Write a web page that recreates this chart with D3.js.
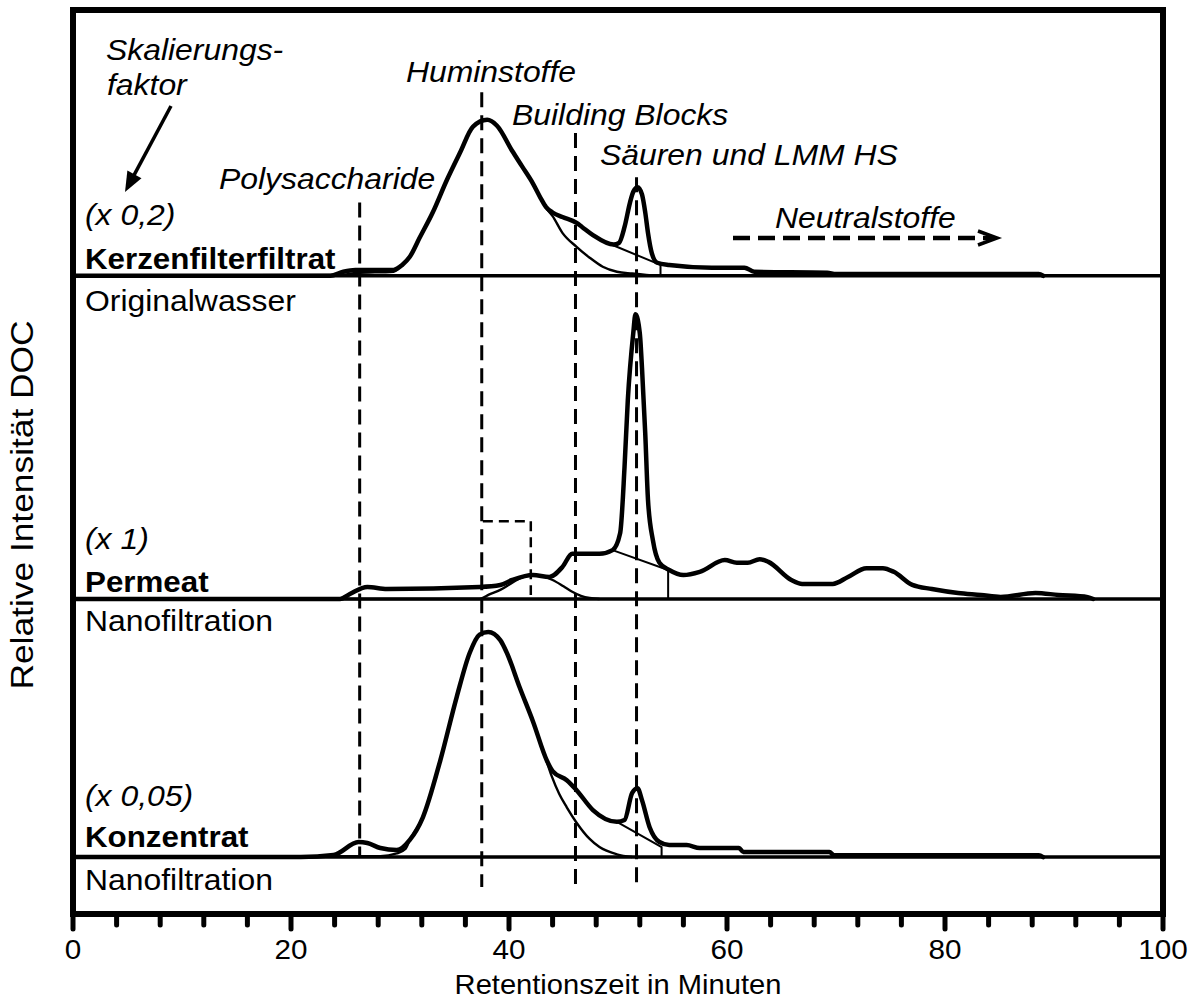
<!DOCTYPE html>
<html>
<head>
<meta charset="utf-8">
<script src="https://cdn.jsdelivr.net/npm/d3@7"></script>
<style>
  body { margin: 0; background: #fff; }
  svg { display: block; }
  text { font-family: "Liberation Sans", Arial, Helvetica, sans-serif; fill: #000; }
</style>
</head>
<body>
<svg id="chart" width="1199" height="999"></svg>
<script>
// ---- LC-OCD chromatograms (retention time in minutes, relative DOC intensity) ----

// Axis ticks
const majorTicks = [0, 20, 40, 60, 80, 100];
const minorTicks = d3.range(0, 101, 4);

// Samples, stacked from top to bottom
const sampleNames   = ["Kerzenfilterfiltrat", "Permeat", "Konzentrat"];
const sampleSources = ["Originalwasser", "Nanofiltration", "Nanofiltration"];
const scaleFactors  = ["(x 0,2)", "(x 1)", "(x 0,05)"];
const stackOffsets  = [70.6, 34.85, 6.3];

// Fraction markers (retention time of each fraction)
const fractionNames = ["Polysaccharide", "Huminstoffe", "Building Blocks", "Säuren und LMM HS"];
const fractionTimes = [26.3, 37.5, 46.1, 51.7];

// Kerzenfilterfiltrat (x 0,2)
const kerzenTrace = [[0,0],[23.6,0],[24.8,0.45],[25.9,0.65],[29.4,0.65],[30.2,1.2],[30.9,2.1],[31.8,4.2],[33.0,7.0],[34.3,10.6],[35.5,13.6],[36.7,16.5],[38.0,17.25],[38.9,16.6],[40.3,13.8],[41.2,12.1],[42.2,10.2],[42.9,8.6],[43.4,7.6],[44.0,7.0],[44.9,6.5],[46.2,5.85],[46.7,5.4],[47.7,4.5],[49.6,3.45],[50.1,3.65],[50.6,5.4],[51.1,8.1],[51.4,9.3],[51.8,9.8],[52.2,9.0],[52.5,7.0],[52.75,4.75],[53.1,2.5],[53.6,1.44],[54.7,1.2],[58.6,0.9],[61.6,0.9],[62.5,0.44],[69.2,0.33],[70.0,0.2],[88.6,0.2],[89.0,0]];
const kerzenFit   = [[0,0],[24.5,0.1],[26.0,0.3],[29.4,0.45],[30.2,1.2],[30.9,2.1],[31.8,4.2],[33.0,7.0],[34.3,10.6],[35.5,13.6],[36.7,16.5],[38.0,17.25],[38.9,16.6],[40.3,13.8],[41.2,12.1],[42.2,10.2],[42.9,8.6],[43.4,7.5],[44.0,6.6],[44.9,4.75],[46.2,3.2],[47.4,2.0],[48.6,1.0],[49.9,0.45],[51.3,0.25],[52.6,0.1],[54.0,0]];
const kerzenAcidBase = [[49.5,3.4],[53.9,1.2],[53.9,0]];

// Permeat (x 1)
const permeatTrace = [[0,0],[24.5,0],[25.4,0.55],[27.0,1.33],[28.8,1.1],[37.3,1.33],[39.2,1.55],[40.3,2.1],[42.2,2.65],[43.7,2.43],[44.9,3.54],[45.8,5.0],[48.3,5.0],[49.5,5.4],[50.2,7.3],[50.6,14.6],[50.9,22.0],[51.4,29.4],[51.6,31.5],[52.0,29.4],[52.2,25.6],[52.5,18.3],[52.75,11.0],[53.2,6.5],[53.8,4.0],[54.7,3.2],[56.0,2.65],[57.5,3.0],[59.8,4.3],[60.9,4.0],[61.9,4.0],[63.0,4.4],[63.8,4.1],[65.9,2.1],[66.9,1.66],[69.7,1.66],[71.1,2.43],[72.8,3.4],[74.3,3.4],[75.3,3.0],[77.0,1.55],[78.8,1.1],[81.2,0.66],[83.3,0.44],[85.1,0.22],[88.3,0.66],[90.4,0.44],[93.1,0.2],[93.6,0]];
const permeatFit   = [[0,0],[37.3,0],[38.2,0.5],[39.2,1.0],[40.3,1.8],[41.2,2.4],[42.2,2.65],[43.0,2.55],[44.0,2.1],[45.0,1.4],[45.8,0.8],[46.6,0.35],[47.4,0.1],[48.3,0]];
const permeatAcidBase = [[49.5,5.4],[54.6,3.2],[54.6,0]];
const permeatBracket  = [[37.6,8.6],[42.0,8.6],[42.0,0.44]];

// Konzentrat (x 0,05)
const konzTrace = [[0,0],[20.9,0],[23.9,0.22],[26.2,1.66],[27.0,1.55],[28.2,1.0],[29.7,0.77],[30.9,1.9],[32.1,4.4],[33.7,10.7],[35.2,17.7],[36.4,22.6],[37.3,24.6],[38.1,24.9],[39.2,24.0],[39.8,22.6],[41.0,18.7],[42.2,15.0],[43.5,10.6],[44.0,9.5],[45.3,8.5],[46.2,7.4],[47.7,5.2],[49.9,3.9],[50.6,4.1],[51.3,7.1],[51.8,7.6],[52.2,6.3],[52.9,3.3],[53.8,1.66],[54.7,1.33],[56.3,1.33],[57.5,1.0],[61.1,1.0],[61.5,0.55],[69.4,0.55],[69.8,0.22],[88.6,0.2],[89.0,0]];
const konzFit   = [[0,0],[28.2,0.1],[29.7,0.4],[30.5,0.9],[30.9,1.9],[32.1,4.4],[33.7,10.7],[35.2,17.7],[36.4,22.6],[37.3,24.6],[38.1,24.9],[39.2,24.0],[39.8,22.6],[41.0,18.7],[42.2,15.0],[43.1,11.9],[43.9,9.0],[44.6,7.0],[45.3,5.5],[46.2,3.8],[47.4,2.0],[48.3,1.1],[49.9,0.3],[51.3,0]];
const konzAcidBase = [[49.9,3.9],[54.0,1.1],[54.0,0]];

const traces   = [kerzenTrace, permeatTrace, konzTrace];
const fits     = [kerzenFit, permeatFit, konzFit];
const acidBase = [kerzenAcidBase, permeatAcidBase, konzAcidBase];

// ---- layout ----
const svg = d3.select("#chart");
const plot = { left: 73, right: 1163, top: 10, bottom: 914 };
const x = d3.scaleLinear().domain([0, 100]).range([plot.left, plot.right]);
const y = d3.scaleLinear().domain([0, 100]).range([plot.bottom, plot.top]);

function label(px, py, str, opts = {}) {
  const sx = opts.stretch || 1.1; // horizontal stretch of lettering
  const t = svg.append("text")
    .attr("transform", `translate(${px},${py}) ${opts.rotate ? "rotate(" + opts.rotate + ")" : ""} scale(${sx},1)`)
    .attr("font-size", opts.size || 29)
    .attr("text-anchor", opts.anchor || "start")
    .text(str);
  if (opts.italic) t.attr("font-style", "italic");
  if (opts.bold) t.attr("font-weight", "bold");
  return t;
}

const line = (off) => d3.line()
  .x(d => x(d[0]))
  .y(d => y(d[1] + off))
  .curve(d3.curveMonotoneX);
const straight = (off) => d3.line().x(d => x(d[0])).y(d => y(d[1] + off));

// fraction markers (dashed verticals)
const markerTop = [78.7, 90.9, 86.4, 81.5];
const markerBottom = [6.2, 3.0, 3.1, 2.9];
svg.append("g").selectAll("line").data(fractionTimes).join("line")
  .attr("x1", d => x(d)).attr("x2", d => x(d))
  .attr("y1", (d, i) => y(markerTop[i])).attr("y2", (d, i) => y(markerBottom[i]))
  .attr("stroke", "#000").attr("stroke-width", 3).attr("stroke-dasharray", "15,8");

// stacked chromatograms
stackOffsets.forEach((off, i) => {
  const g = svg.append("g");
  // zero line of the sample
  g.append("line")
    .attr("x1", x(0)).attr("x2", x(100)).attr("y1", y(off)).attr("y2", y(off))
    .attr("stroke", "#000").attr("stroke-width", 3.5);
  // fitted humic fraction
  g.append("path").attr("d", line(off)(fits[i]))
    .attr("fill", "none").attr("stroke", "#000").attr("stroke-width", 2.4)
    .attr("stroke-linejoin", "round");
  // integration boundary of the acid peak
  g.append("path").attr("d", straight(off)(acidBase[i]))
    .attr("fill", "none").attr("stroke", "#000").attr("stroke-width", 2);
  // measured DOC signal
  g.append("path").attr("d", line(off)(traces[i]))
    .attr("fill", "none").attr("stroke", "#000").attr("stroke-width", 4.5)
    .attr("stroke-linejoin", "round").attr("stroke-linecap", "round");
});

// dashed bracket on the permeat humic fraction
svg.append("path").attr("d", straight(stackOffsets[1])(permeatBracket))
  .attr("fill", "none").attr("stroke", "#000").attr("stroke-width", 2.5)
  .attr("stroke-dasharray", "10,6");

// sample labels
const nameY = [269, 592, 847];
const srcY  = [311, 631, 890];
const facY  = [225, 549, 806];
sampleNames.forEach((n, i) => {
  label(85, facY[i], scaleFactors[i], { italic: true });
  label(85, nameY[i], n, { bold: true, stretch: 1.08 });
  label(85, srcY[i], sampleSources[i]);
});

// fraction labels
const fracLabelPos = [[219, 189, "start"], [491, 82, "middle"], [512, 125, "start"], [600, 165, "start"]];
fractionNames.forEach((n, i) => {
  label(fracLabelPos[i][0], fracLabelPos[i][1], n, { italic: true, anchor: fracLabelPos[i][2] });
});

// neutral substances arrow
label(775, 228, "Neutralstoffe", { italic: true });
svg.append("line").attr("x1", 733).attr("x2", 992).attr("y1", 238).attr("y2", 238)
  .attr("stroke", "#000").attr("stroke-width", 4.5).attr("stroke-dasharray", "17,8");
svg.append("path").attr("d", "M978,231 L997,238 L978,245")
  .attr("fill", "none").attr("stroke", "#000").attr("stroke-width", 3.5)
  .attr("stroke-linejoin", "miter");

// scaling-factor annotation
label(106, 60, "Skalierungs-", { italic: true });
label(107, 95, "faktor", { italic: true });
(function () {
  const x0 = 171, y0 = 106, x1 = 125, y1 = 192;
  const dx = x1 - x0, dy = y1 - y0, L = Math.hypot(dx, dy);
  const ux = dx / L, uy = dy / L, head = 20, half = 8;
  const bx = x1 - ux * head, by = y1 - uy * head;
  svg.append("line").attr("x1", x0).attr("y1", y0).attr("x2", bx + ux * 2).attr("y2", by + uy * 2)
    .attr("stroke", "#000").attr("stroke-width", 3.5);
  svg.append("path")
    .attr("d", `M${x1},${y1} L${bx - uy * half},${by + ux * half} L${bx + uy * half},${by - ux * half} Z`)
    .attr("fill", "#000");
})();

// frame
svg.append("rect")
  .attr("x", plot.left).attr("y", plot.top)
  .attr("width", plot.right - plot.left).attr("height", plot.bottom - plot.top)
  .attr("fill", "none").attr("stroke", "#000").attr("stroke-width", 6);

// x axis ticks
svg.append("g").selectAll("line").data(minorTicks).join("line")
  .attr("x1", d => x(d)).attr("x2", d => x(d))
  .attr("y1", plot.bottom)
  .attr("y2", d => plot.bottom + (majorTicks.includes(d) ? 15 : 11))
  .attr("stroke", "#000").attr("stroke-width", 5).attr("stroke-linecap", "round");

majorTicks.forEach(t => label(x(t), 959, String(t), { anchor: "middle", size: 28, stretch: 1.06 }));
label((plot.left + plot.right) / 2, 994, "Retentionszeit in Minuten", { anchor: "middle", size: 28, stretch: 1.04 });
label(33, 505, "Relative Intensität DOC", { anchor: "middle", size: 31, stretch: 1.14, rotate: -90 });
</script>
</body>
</html>
